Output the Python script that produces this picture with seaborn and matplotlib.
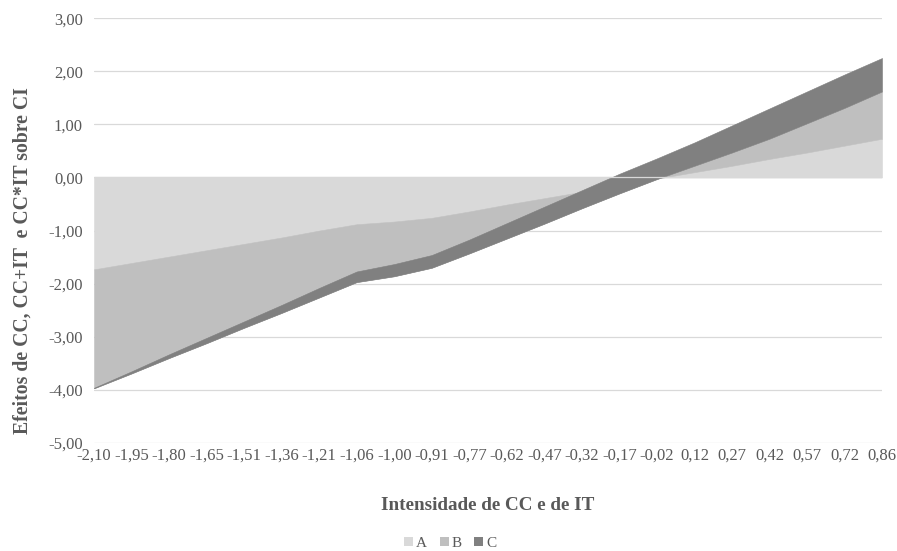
import matplotlib
matplotlib.use("Agg")
import matplotlib.pyplot as plt
from matplotlib.patches import Patch
import numpy as np
import pandas as pd
import seaborn as sns

# categorias do eixo X (intensidade de CC e de IT)
intensidade = [-2.10, -1.95, -1.80, -1.65, -1.51, -1.36, -1.21, -1.06, -1.00, -0.91,
               -0.77, -0.62, -0.47, -0.32, -0.17, -0.02, 0.12, 0.27, 0.42, 0.57,
               0.72, 0.86]

# séries empilhadas (área empilhada, como no Excel)
serie_a = [-1.73, -1.61, -1.49, -1.37, -1.25, -1.13, -1.00, -0.88, -0.83, -0.76,
           -0.64, -0.51, -0.39, -0.27, -0.14, -0.02, 0.10, 0.22, 0.35, 0.47,
           0.60, 0.73]
serie_b = [-2.24, -2.08, -1.91, -1.75, -1.58, -1.42, -1.26, -1.09, -1.03, -0.94,
           -0.79, -0.64, -0.48, -0.31, -0.16, -0.01, 0.12, 0.25, 0.38, 0.55,
           0.71, 0.89]
serie_c = [0.01, 0.04, 0.07, 0.10, 0.12, 0.15, 0.18, 0.20, 0.23, 0.24,
           0.26, 0.29, 0.32, 0.34, 0.37, 0.39, 0.44, 0.51, 0.57, 0.60,
           0.63, 0.63]

nomes = ["A", "B", "C"]
cores = ["#D9D9D9", "#BFBFBF", "#808080"]
y_ticks = [-5, -4, -3, -2, -1, 0, 1, 2, 3]

TXT = "#595959"
GRID = "#D9D9D9"

sns.set_theme(style="white")
plt.rcParams["font.family"] = ["Liberation Serif", "DejaVu Serif"]

df = pd.DataFrame({"x": intensidade, "A": serie_a, "B": serie_b, "C": serie_c})
pos = np.arange(len(df))

fig = plt.figure(figsize=(8.97, 5.51), dpi=100)
ax = fig.add_axes([0.1048, 0.196, 0.8785, 0.771])

ax.stackplot(pos, df["A"], df["B"], df["C"], colors=cores, labels=nomes,
             linewidth=0.4, edgecolor="face", zorder=2)

# linhas de grade e eixo horizontal em zero
for v in y_ticks:
    ax.axhline(v, color=GRID, lw=0.9, zorder=1)
ax.axhline(0, color=GRID, lw=0.9, zorder=3)

ax.set_xlim(0, len(df) - 1)
ax.set_ylim(-5, 3)
ax.set_yticks(y_ticks)
ax.set_yticklabels([f"{v:.2f}".replace(".", ",") for v in y_ticks])
ax.set_xticks(pos)
ax.set_xticklabels([f"{v:.2f}".replace(".", ",") for v in df["x"]])
ax.tick_params(axis="both", length=0, labelsize=12, colors=TXT)
ax.tick_params(axis="x", pad=3)
ax.tick_params(axis="y", pad=8)
sns.despine(ax=ax, left=True, bottom=True)

ax.set_xlabel("Intensidade de CC e de IT", fontsize=13.8, fontweight="bold",
              color=TXT, labelpad=24)
ax.set_ylabel("Efeitos de CC, CC+IT  e CC*IT sobre CI", fontsize=14.2,
              fontweight="bold", color=TXT)
ax.yaxis.set_label_coords(-0.078, 0.43)

handles = [Patch(facecolor=c, edgecolor="none") for c in cores]
leg = fig.legend(handles, nomes, loc="center", bbox_to_anchor=(0.502, 0.014),
                 ncol=3, frameon=False, fontsize=11, handlelength=0.6,
                 handleheight=0.6, handletextpad=0.2, columnspacing=0.8,
                 borderpad=0.1)
for t in leg.get_texts():
    t.set_color(TXT)

fig.savefig("out.png", dpi=100)
